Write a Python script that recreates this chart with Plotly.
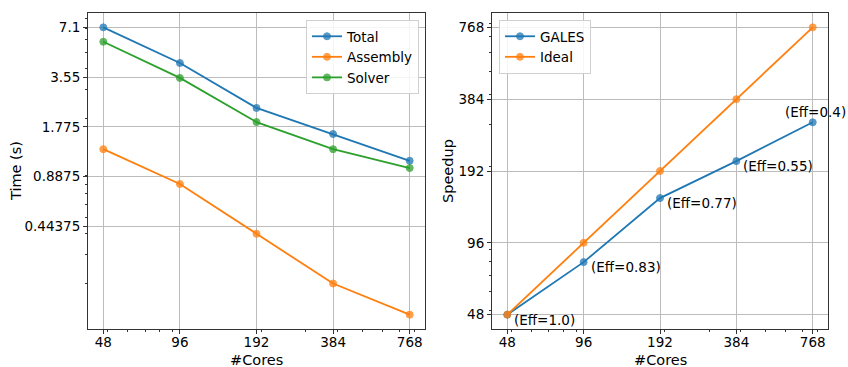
import math
import plotly.graph_objects as go

# Strong-scaling measurements
cores = [48, 96, 192, 384, 768]
time_total = [7.1, 4.32, 2.31, 1.606, 1.106]
time_assembly = [1.30, 0.80, 0.40, 0.20, 0.1296]
time_solver = [5.81, 3.51, 1.897, 1.30, 1.0]

# Parallel efficiency of GALES relative to 48 cores
efficiency = [1.0, 0.83, 0.77, 0.55, 0.4]
eff_labels = ["(Eff=1.0)", "(Eff=0.83)", "(Eff=0.77)", "(Eff=0.55)", "(Eff=0.4)"]

# Time-axis tick labels (halving steps from the 48-core total time)
time_tick_text = ["7.1", "3.55", "1.775", "0.8875", "0.44375"]
core_tick_text = ["48", "96", "192", "384", "768"]

speedup_gales = [c * e for c, e in zip(cores, efficiency)]
speedup_ideal = list(cores)
time_tick_vals = [float(t) for t in time_tick_text]

C_BLUE, C_ORANGE, C_GREEN = "#1f77b4", "#ff7f0e", "#2ca02c"
FONT = "DejaVu Sans"


def log_range(lo, hi, pad=0.05):
    a, b = math.log10(lo), math.log10(hi)
    d = (b - a) * pad
    return [a - d, b + d]


def minor_vals(lo, hi):
    out = []
    for dec in range(-2, 4):
        for m in range(2, 10):
            v = m * 10 ** dec
            if lo <= v <= hi:
                out.append(v)
    return out


def trace(x, y, name, color, xa, ya, legend):
    return go.Scatter(
        x=x, y=y, name=name, mode="lines+markers", xaxis=xa, yaxis=ya, legend=legend,
        line=dict(color=color, width=1.8),
        marker=dict(symbol="circle", size=7, color=color, opacity=0.75,
                    line=dict(color=color, width=1)),
    )


fig = go.Figure()
fig.add_trace(trace(cores, time_total, "Total", C_BLUE, "x", "y", "legend"))
fig.add_trace(trace(cores, time_assembly, "Assembly", C_ORANGE, "x", "y", "legend"))
fig.add_trace(trace(cores, time_solver, "Solver", C_GREEN, "x", "y", "legend"))
fig.add_trace(trace(cores, speedup_gales, "GALES", C_BLUE, "x2", "y2", "legend2"))
fig.add_trace(trace(cores, speedup_ideal, "Ideal", C_ORANGE, "x2", "y2", "legend2"))

W, H = 848, 367
top_px, bot_px = 13, 329
ydom = [1 - bot_px / H, 1 - top_px / H]

xr = log_range(min(cores), max(cores))
all_t = time_total + time_assembly + time_solver
yr1 = log_range(min(all_t), max(all_t))
yr2 = log_range(min(speedup_gales + speedup_ideal), max(speedup_gales + speedup_ideal))

axis_common = dict(
    type="log", showline=True, mirror=True, linecolor="#333333", linewidth=1,
    showgrid=True, gridcolor="#bcbcbc", gridwidth=1, zeroline=False,
    ticks="outside", ticklen=4, tickcolor="#333333", tickwidth=1,
    tickfont=dict(family=FONT, size=13.5, color="#000000"), automargin=False,
)

x_minor = minor_vals(10 ** xr[0], 10 ** xr[1])
minor_style = dict(tickmode="array", ticks="outside", ticklen=2,
                   tickcolor="#333333", showgrid=False)

fig.update_layout(
    width=W, height=H, margin=dict(l=0, r=0, t=0, b=0),
    paper_bgcolor="white", plot_bgcolor="white",
    font=dict(family=FONT, size=13, color="#000000"),
    xaxis=dict(axis_common, domain=[88 / W, 425 / W], range=xr, anchor="y",
               tickmode="array", tickvals=cores, ticktext=core_tick_text,
               ticklabelstandoff=-3,
               minor=dict(minor_style, tickvals=x_minor)),
    yaxis=dict(axis_common, domain=ydom, range=yr1, anchor="x",
               tickmode="array", tickvals=time_tick_vals, ticktext=time_tick_text,
               minor=dict(minor_style,
                          tickvals=minor_vals(10 ** yr1[0], 10 ** yr1[1]))),
    xaxis2=dict(axis_common, domain=[492 / W, 828 / W], range=xr, anchor="y2",
                tickmode="array", tickvals=cores, ticktext=core_tick_text,
                ticklabelstandoff=-3,
                minor=dict(minor_style, tickvals=x_minor)),
    yaxis2=dict(axis_common, domain=ydom, range=yr2, anchor="x2",
                tickmode="array", tickvals=speedup_ideal, ticktext=core_tick_text,
                minor=dict(minor_style,
                           tickvals=minor_vals(10 ** yr2[0], 10 ** yr2[1]))),
    legend=dict(x=306 / W, y=1 - 20 / H, xanchor="left", yanchor="top",
                bgcolor="rgba(255,255,255,0.85)", bordercolor="#d0d0d0",
                borderwidth=1, font=dict(family=FONT, size=13.5),
                itemwidth=30, tracegroupgap=0),
    legend2=dict(x=499 / W, y=1 - 20 / H, xanchor="left", yanchor="top",
                 bgcolor="rgba(255,255,255,0.85)", bordercolor="#d0d0d0",
                 borderwidth=1, font=dict(family=FONT, size=13.5),
                 itemwidth=30, tracegroupgap=0),
    showlegend=True,
)

annotations = []
# Axis titles
for txt, x, y, ang in [
    ("Time (s)", 16 / W, 1 - 171 / H, -90),
    ("Speedup", 448 / W, 1 - 171 / H, -90),
    ("#Cores", 256.5 / W, 1 - 360 / H, 0),
    ("#Cores", 660 / W, 1 - 360 / H, 0),
]:
    annotations.append(dict(text=txt, x=x, y=y, xref="paper", yref="paper",
                            showarrow=False, textangle=ang,
                            xanchor="center", yanchor="middle",
                            font=dict(family=FONT, size=14.5, color="#000000")))

# Efficiency labels next to each GALES point
for i, (c, s, lab) in enumerate(zip(cores, speedup_gales, eff_labels)):
    last = i == len(cores) - 1
    annotations.append(dict(
        text=lab, x=math.log10(c), y=math.log10(s), xref="x2", yref="y2",
        showarrow=False,
        xanchor="center" if last else "left", yanchor="middle",
        xshift=3 if last else 5, yshift=10 if last else -5,
        font=dict(family=FONT, size=13.5, color="#000000"),
    ))

fig.update_layout(annotations=annotations)
fig.write_html("out.html")
